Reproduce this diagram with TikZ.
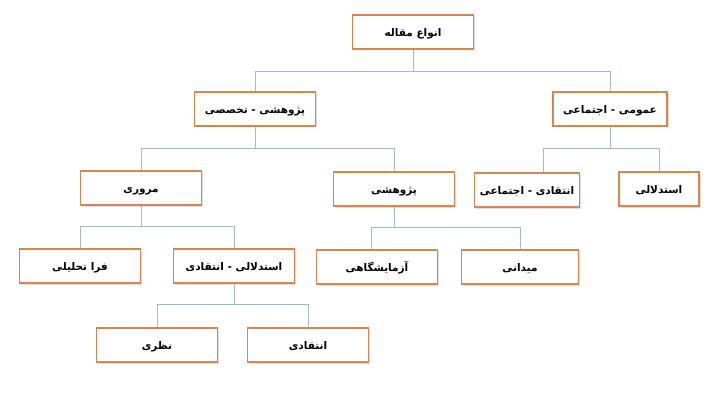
\documentclass[tikz,border=0pt]{standalone}
\usepackage{fontspec}
\usepackage{xcolor}
\usetikzlibrary{shadows}
\TeXXeTstate=1
\newfontfamily\farsifont[Script=Arabic]{DejaVu Sans}
\definecolor{boxline}{RGB}{214,134,78}
\definecolor{linkline}{RGB}{160,186,204}
\newcommand{\fa}[1]{\beginR #1\endR}
\begin{document}
\begin{tikzpicture}[x=1pt,y=-1pt,
box/.style={draw=boxline,line width=1.1pt,fill=white,minimum width=121pt,minimum height=34pt,
font=\farsifont\bfseries\fontsize{10.5}{12}\selectfont,text height=2.4ex,text depth=0.4ex,
drop shadow={opacity=0.25,shadow xshift=1.5pt,shadow yshift=-1.5pt}},
link/.style={draw=linkline,line width=0.7pt}]
\useasboundingbox (0,0) rectangle (709,401);
\node[box] (root) at (413,32) {\fa{انواع مقاله}};
\node[box] (spec) at (255,109) {\fa{پژوهشی - تخصصی}};
\node[box,minimum width=114pt] (gen) at (610,109) {\fa{عمومی - اجتماعی}};
\node[box] (rev) at (141,188) {\fa{مروری}};
\node[box] (res) at (394,189) {\fa{پژوهشی}};
\node[box,minimum width=105pt] (soc) at (527,190) {\fa{انتقادی - اجتماعی}};
\node[box,minimum width=80pt] (arg) at (659,189) {\fa{استدلالی}};
\node[box] (meta) at (80,266) {\fa{فرا تحلیلی}};
\node[box] (crit) at (234,266) {\fa{استدلالی - انتقادی}};
\node[box] (lab) at (377,267) {\fa{آزمایشگاهی}};
\node[box,minimum width=117pt] (field) at (520,267) {\fa{میدانی}};
\node[box] (theo) at (157,345) {\fa{نظری}};
\node[box] (critic) at (308,345) {\fa{انتقادی}};
\path[link] (root.south) -- ++(0,22) -| (spec.north);
\path[link] (root.south) -- ++(0,22) -| (gen.north);
\path[link] (spec.south) -- ++(0,22) -| (rev.north);
\path[link] (spec.south) -- ++(0,22) -| (res.north);
\path[link] (gen.south) -- ++(0,22) -| ([xshift=16pt]soc.north);
\path[link] (gen.south) -- ++(0,22) -| (arg.north);
\path[link] (rev.south) -- ++(0,21) -| (meta.north);
\path[link] (rev.south) -- ++(0,21) -| (crit.north);
\path[link] (res.south) -- ++(0,21) -| ([xshift=-6pt]lab.north);
\path[link] (res.south) -- ++(0,21) -| (field.north);
\path[link] (crit.south) -- ++(0,21) -| (theo.north);
\path[link] (crit.south) -- ++(0,21) -| (critic.north);
\end{tikzpicture}
\end{document}
